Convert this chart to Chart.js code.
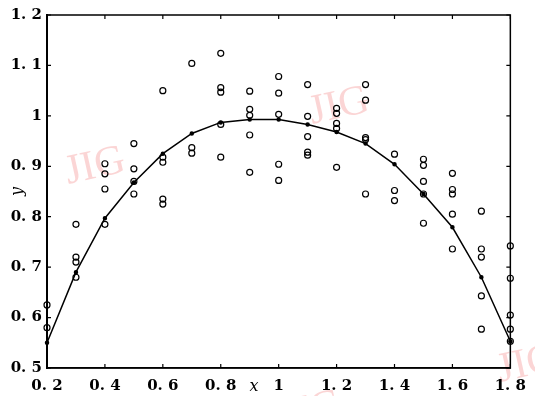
<!DOCTYPE html>
<html>
<head>
<meta charset="utf-8">
<script src="https://cdn.jsdelivr.net/npm/chart.js@4.4.1/dist/chart.umd.min.js"></script>
<style>
  html, body { margin: 0; padding: 0; background: #fff; }
  #wrap { width: 535px; height: 396px; }
</style>
</head>
<body>
<div id="wrap"><canvas id="fitChart"></canvas></div>
<script>
// measured points, one array per x column
const xColumns = [0.2, 0.3, 0.4, 0.5, 0.6, 0.7, 0.8, 0.9, 1.0, 1.1, 1.2, 1.3, 1.4, 1.5, 1.6, 1.7, 1.8];
const yMeasured = [
    [0.625, 0.58],
    [0.785, 0.72, 0.71, 0.68],
    [0.905, 0.885, 0.855, 0.785],
    [0.945, 0.895, 0.87, 0.845],
    [1.05, 0.918, 0.908, 0.835, 0.825],
    [1.104, 0.937, 0.926],
    [1.124, 1.056, 1.047, 0.983, 0.918],
    [1.049, 1.013, 1.001, 0.962, 0.888],
    [1.078, 1.045, 1.003, 0.904, 0.872],
    [1.062, 0.999, 0.959, 0.928, 0.922],
    [1.015, 1.005, 0.985, 0.975, 0.898],
    [1.062, 1.031, 0.957, 0.953, 0.845],
    [0.924, 0.852, 0.832],
    [0.914, 0.902, 0.87, 0.845, 0.787],
    [0.886, 0.854, 0.845, 0.805, 0.736],
    [0.811, 0.736, 0.72, 0.643, 0.577],
    [0.742, 0.678, 0.605, 0.577, 0.553]
];
// fitted curve
const yFitted = [0.55, 0.69, 0.797, 0.868, 0.925, 0.965, 0.987, 0.993, 0.993, 0.983, 0.968, 0.945, 0.904, 0.845, 0.779, 0.68, 0.553];

const xTicks = [0.2, 0.4, 0.6, 0.8, 1.0, 1.2, 1.4, 1.6, 1.8];
const yTicks = [0.5, 0.6, 0.7, 0.8, 0.9, 1.0, 1.1, 1.2];

const labelFont = { family: "'DejaVu Serif'", size: 15, weight: 'bold' };

function fmt(v) {
    let s = (Math.round(v * 10) / 10).toFixed(1);
    if (s == "1.0") return "1";
    return s.replace(".", ". ");
}

const scatterData = [];
xColumns.forEach((x, i) => {
    yMeasured[i].forEach(y => scatterData.push({ x: x, y: y }));
});
const curveData = xColumns.map((x, i) => ({ x: x, y: yFitted[i] }));

// box, inward ticks, x label and the pink watermark
const framePlugin = {
    id: 'frame',
    beforeDraw(chart) {
        const ctx = chart.ctx;
        ctx.save();
        ctx.fillStyle = 'rgba(245,150,150,0.4)';
        ctx.font = "42px 'Liberation Serif'";
        const marks = [[68, 184, -0.22], [312, 124, -0.22], [500, 382, -0.22], [284, 428, -0.22]];
        marks.forEach(m => {
            ctx.save();
            ctx.translate(m[0], m[1]);
            ctx.rotate(m[2]);
            ctx.fillText("JIG", 0, 0);
            ctx.restore();
        });
        ctx.restore();
    },
    afterDraw(chart) {
        const ctx = chart.ctx;
        const a = chart.chartArea;
        const xs = chart.scales.x;
        const ys = chart.scales.y;
        ctx.save();
        ctx.strokeStyle = '#000';
        ctx.lineWidth = 1.5;
        ctx.strokeRect(a.left, a.top, a.right - a.left, a.bottom - a.top);
        ctx.lineWidth = 1.2;
        ctx.beginPath();
        xTicks.forEach(v => {
            const px = xs.getPixelForValue(v);
            ctx.moveTo(px, a.bottom); ctx.lineTo(px, a.bottom - 4);
            ctx.moveTo(px, a.top); ctx.lineTo(px, a.top + 4);
        });
        yTicks.forEach(v => {
            const py = ys.getPixelForValue(v);
            ctx.moveTo(a.left, py); ctx.lineTo(a.left + 4, py);
            ctx.moveTo(a.right, py); ctx.lineTo(a.right - 4, py);
        });
        ctx.stroke();
        ctx.fillStyle = '#000';
        ctx.font = "italic 16px 'DejaVu Serif'";
        ctx.textAlign = 'center';
        ctx.textBaseline = 'middle';
        ctx.fillText("x", xs.getPixelForValue(0.915), a.bottom + 19);
        ctx.restore();
    }
};

new Chart(document.getElementById("fitChart"), {
    type: 'scatter',
    data: {
        datasets: [{
            label: 'measured',
            data: scatterData,
            showLine: false,
            clip: false,
            pointStyle: 'circle',
            pointRadius: 3,
            pointBorderWidth: 1.2,
            pointBorderColor: '#000',
            pointBackgroundColor: 'rgba(0,0,0,0)',
        }, {
            label: 'fitted',
            data: curveData,
            showLine: true,
            clip: false,
            borderColor: '#000',
            borderWidth: 1.5,
            pointRadius: 1.5,
            pointBackgroundColor: '#000',
            pointBorderColor: '#000',
            tension: 0,
        }],
    },
    options: {
        responsive: true,
        maintainAspectRatio: false,
        animation: false,
        layout: { padding: { top: 15, right: 24, left: 0, bottom: 0 } },
        plugins: {
            legend: { display: false },
            tooltip: { enabled: false },
        },
        scales: {
            x: {
                type: 'linear',
                min: 0.2,
                max: 1.8,
                afterBuildTicks: (s) => { s.ticks = xTicks.map(v => ({ value: v })); },
                afterFit: (s) => { s.height = 28; },
                grid: { display: false, drawTicks: false },
                border: { display: true, color: '#000', width: 1.5 },
                ticks: {
                    color: '#000',
                    font: labelFont,
                    padding: 9,
                    maxRotation: 0,
                    callback: (v) => fmt(v),
                },
            },
            y: {
                type: 'linear',
                min: 0.5,
                max: 1.2,
                afterBuildTicks: (s) => { s.ticks = yTicks.map(v => ({ value: v })); },
                afterFit: (s) => { s.width = 47; },
                grid: { display: false, drawTicks: false },
                border: { display: true, color: '#000', width: 2 },
                title: {
                    display: true,
                    text: 'y',
                    color: '#000',
                    font: { family: "'DejaVu Serif'", size: 16, style: 'italic' },
                    padding: { top: 8, bottom: 0 },
                },
                ticks: {
                    color: '#000',
                    font: labelFont,
                    padding: 5,
                    callback: (v) => fmt(v),
                },
            },
        },
    },
    plugins: [framePlugin],
});
</script>
</body>
</html>
